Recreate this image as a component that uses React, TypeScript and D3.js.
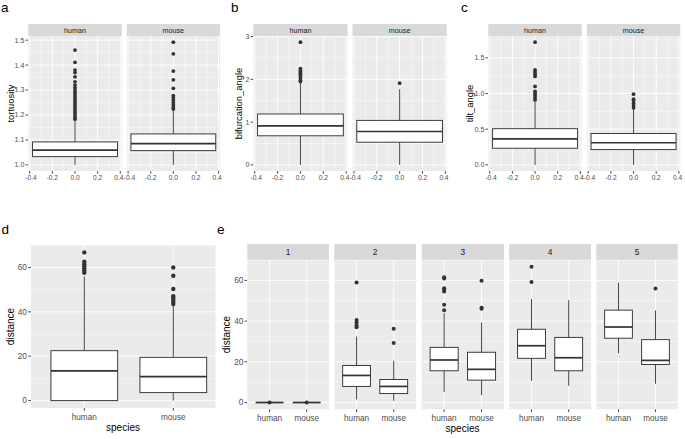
import React from "react";
import * as d3 from "d3";

type Box = { q1: number; med: number; q3: number; lo: number; hi: number; out: number[] };

const species = ["human", "mouse"];
const branchOrders = ["1", "2", "3", "4", "5"];

// continuous x axis of the top row (one box at x = 0)
const boxXTicks = [-0.4, -0.2, 0, 0.2, 0.4];
const boxXTickLabels = ["-0.4", "-0.2", "0.0", "0.2", "0.4"];
const boxXMinor = [-0.3, -0.1, 0.1, 0.3];

// a: tortuosity
const tortuosityTicks = [1.0, 1.1, 1.2, 1.3, 1.4, 1.5];
const tortuosityTickLabels = ["1.0", "1.1", "1.2", "1.3", "1.4", "1.5"];
const tortuosityMinor = [1.05, 1.15, 1.25, 1.35, 1.45];
const tortuosity: Box[] = [
  {
    q1: 1.033, med: 1.059, q3: 1.092, lo: 1.0, hi: 1.178,
    out: [1.183, 1.19, 1.2, 1.21, 1.22, 1.23, 1.24, 1.25, 1.26, 1.27, 1.28, 1.29, 1.3, 1.31, 1.32, 1.333, 1.353, 1.37, 1.38, 1.411, 1.46],
  },
  {
    q1: 1.057, med: 1.085, q3: 1.124, lo: 1.0, hi: 1.218,
    out: [1.224, 1.23, 1.24, 1.25, 1.26, 1.27, 1.277, 1.307, 1.341, 1.376, 1.445, 1.492],
  },
];

// b: bifurcation angle
const bifurcationTicks = [0, 1, 2, 3];
const bifurcationTickLabels = ["0", "1", "2", "3"];
const bifurcationMinor = [0.5, 1.5, 2.5];
const bifurcation: Box[] = [
  { q1: 0.68, med: 0.91, q3: 1.19, lo: 0, hi: 1.93, out: [1.95, 1.98, 2.03, 2.08, 2.12, 2.15, 2.18, 2.22, 2.25, 2.87] },
  { q1: 0.53, med: 0.78, q3: 1.04, lo: 0, hi: 1.77, out: [1.91] },
];

// c: tilt angle
const tiltTicks = [0, 0.5, 1.0, 1.5];
const tiltTickLabels = ["0.0", "0.5", "1.0", "1.5"];
const tiltMinor = [0.25, 0.75, 1.25, 1.75];
const tilt: Box[] = [
  { q1: 0.233, med: 0.363, q3: 0.507, lo: 0, hi: 0.89, out: [0.91, 0.94, 0.97, 1.0, 1.03, 1.1, 1.24, 1.27, 1.3, 1.33, 1.72] },
  { q1: 0.214, med: 0.31, q3: 0.44, lo: 0, hi: 0.78, out: [0.8, 0.83, 0.86, 0.9, 0.92, 0.99] },
];

// d / e: distance
const distanceTicks = [0, 20, 40, 60];
const distanceTickLabels = ["0", "20", "40", "60"];
const distanceMinor = [10, 30, 50, 70];
const distance: Box[] = [
  { q1: 0, med: 13.4, q3: 22.5, lo: 0, hi: 56, out: [57.6, 58.5, 59.5, 60.5, 61.5, 62.6, 66.8] },
  { q1: 3.6, med: 10.8, q3: 19.5, lo: 0, hi: 43, out: [43.5, 44.5, 45.5, 46.5, 47.1, 50.3, 56.3, 60] },
];
const distanceByOrder: Box[][] = [
  [
    { q1: 0, med: 0, q3: 0, lo: 0, hi: 0, out: [0] },
    { q1: 0, med: 0, q3: 0, lo: 0, hi: 0, out: [0] },
  ],
  [
    { q1: 7.9, med: 13.3, q3: 18.2, lo: 1.5, hi: 32.4, out: [37, 38, 39.5, 40.5, 59] },
    { q1: 4.4, med: 7.9, q3: 11.3, lo: 0.8, hi: 20.5, out: [29.2, 36.2] },
  ],
  [
    { q1: 15.6, med: 20.9, q3: 27.1, lo: 5.2, hi: 43.9, out: [45.4, 48, 54.5, 55.5, 56.2, 61, 61.6] },
    { q1: 11, med: 16.3, q3: 24.7, lo: 3.6, hi: 39.3, out: [46.1, 46.6, 59.8] },
  ],
  [
    { q1: 21.7, med: 27.9, q3: 36, lo: 10.7, hi: 50.8, out: [59.2, 66.7] },
    { q1: 15.6, med: 22, q3: 32, lo: 8.2, hi: 50.3, out: [] },
  ],
  [
    { q1: 31.6, med: 37.1, q3: 45.4, lo: 24.2, hi: 58.8, out: [] },
    { q1: 18.7, med: 20.7, q3: 30.9, lo: 9.2, hi: 45.2, out: [56] },
  ],
];

const FONT = "'Liberation Sans', Arial, sans-serif";
const PANEL = "#EBEBEB";
const STRIP = "#D9D9D9";
const DARK = "#333333";
const TICKTXT = "#4D4D4D";

// ggplot-like continuous limits: data range + 5%
const expandedDomain = (groups: Box[]) => {
  const vals = groups.flatMap((b) => [b.lo, b.hi, b.q1, b.q3, ...b.out]);
  const [mn, mx] = d3.extent(vals) as [number, number];
  const pad = (mx - mn) * 0.05;
  return [mn - pad, mx + pad];
};

type FacetProps = {
  x0: number; x1: number; top: number; bottom: number;
  xDomain: number[]; xMajor: number[]; xMinor: number[]; xLabels: string[];
  yDomain: number[]; yMajor: number[]; yMinor: number[];
  centers: number[]; boxes: Box[];
  r: number; tickFont: number; labelY: number; edgeNudge?: number;
  strip?: string; stripTop?: number; stripFont?: number;
};

function Facet(p: FacetProps) {
  const x = d3.scaleLinear().domain(p.xDomain).range([p.x0, p.x1]);
  const y = d3.scaleLinear().domain(p.yDomain).range([p.bottom, p.top]);
  const half = (x(0.75) - x(0)) / 2;
  const nudge = p.edgeNudge ?? 0;
  return (
    <g>
      {p.strip !== undefined && (
        <g>
          <rect x={p.x0} y={p.stripTop} width={p.x1 - p.x0} height={p.top - (p.stripTop as number)} fill={STRIP} />
          <text x={(p.x0 + p.x1) / 2} y={((p.stripTop as number) + p.top) / 2} dy="0.35em" textAnchor="middle"
            fontSize={p.stripFont} fill="#1A1A1A">{p.strip}</text>
        </g>
      )}
      <rect x={p.x0} y={p.top} width={p.x1 - p.x0} height={p.bottom - p.top} fill={PANEL} />
      {p.yMinor.filter((v) => v > p.yDomain[0] && v < p.yDomain[1]).map((v) => (
        <line key={"ym" + v} x1={p.x0} x2={p.x1} y1={y(v)} y2={y(v)} stroke="#fff" strokeWidth={0.45} />
      ))}
      {p.xMinor.map((v) => (
        <line key={"xm" + v} x1={x(v)} x2={x(v)} y1={p.top} y2={p.bottom} stroke="#fff" strokeWidth={0.45} />
      ))}
      {p.yMajor.map((v) => (
        <line key={"yM" + v} x1={p.x0} x2={p.x1} y1={y(v)} y2={y(v)} stroke="#fff" strokeWidth={0.9} />
      ))}
      {p.xMajor.map((v) => (
        <line key={"xM" + v} x1={x(v)} x2={x(v)} y1={p.top} y2={p.bottom} stroke="#fff" strokeWidth={0.9} />
      ))}
      {p.boxes.map((b, i) => {
        const cx = x(p.centers[i]);
        return (
          <g key={"b" + i}>
            <line x1={cx} x2={cx} y1={y(b.hi)} y2={y(b.q3)} stroke={DARK} strokeWidth={0.9} />
            <line x1={cx} x2={cx} y1={y(b.q1)} y2={y(b.lo)} stroke={DARK} strokeWidth={0.9} />
            <rect x={cx - half} y={y(b.q3)} width={half * 2} height={y(b.q1) - y(b.q3)}
              fill="#fff" stroke={DARK} strokeWidth={0.95} />
            <line x1={cx - half} x2={cx + half} y1={y(b.med)} y2={y(b.med)} stroke={DARK} strokeWidth={1.7} />
            {b.out.map((v, j) => (
              <circle key={j} cx={cx} cy={y(v)} r={p.r} fill={DARK} />
            ))}
          </g>
        );
      })}
      {p.xMajor.map((v, i) => {
        const shift = i === 0 ? nudge : i === p.xMajor.length - 1 ? -nudge : 0;
        return (
          <g key={"xt" + v}>
            <line x1={x(v)} x2={x(v)} y1={p.bottom} y2={p.bottom + 2.7} stroke={DARK} strokeWidth={0.9} />
            <text x={x(v) + shift} y={p.labelY} textAnchor="middle" fontSize={p.tickFont} fill={TICKTXT}>{p.xLabels[i]}</text>
          </g>
        );
      })}
    </g>
  );
}

function YAxis({ x0, top, bottom, domain, ticks, labels, font }: {
  x0: number; top: number; bottom: number; domain: number[]; ticks: number[]; labels: string[]; font: number;
}) {
  const y = d3.scaleLinear().domain(domain).range([bottom, top]);
  return (
    <g>
      {ticks.map((v, i) => (
        <g key={v}>
          <line x1={x0 - 2.7} x2={x0} y1={y(v)} y2={y(v)} stroke={DARK} strokeWidth={0.9} />
          <text x={x0 - 4} y={y(v)} dy="0.35em" textAnchor="end" fontSize={font} fill={TICKTXT}>{labels[i]}</text>
        </g>
      ))}
    </g>
  );
}

function TopPlot({ facetX, boxes, ticks, labels, minor, title, titleX }: {
  facetX: number[][]; boxes: Box[]; ticks: number[]; labels: string[]; minor: number[]; title: string; titleX: number;
}) {
  const top = 36, bottom = 171, stripTop = 24;
  const domain = expandedDomain(boxes);
  return (
    <g>
      <YAxis x0={facetX[0][0]} top={top} bottom={bottom} domain={domain} ticks={ticks} labels={labels} font={7} />
      {species.map((s, i) => (
        <Facet key={s} x0={facetX[i][0]} x1={facetX[i][1]} top={top} bottom={bottom}
          xDomain={[-0.4125, 0.4125]} xMajor={boxXTicks} xMinor={boxXMinor} xLabels={boxXTickLabels}
          yDomain={domain} yMajor={ticks} yMinor={minor} centers={[0]} boxes={[boxes[i]]}
          r={1.9} tickFont={6.6} labelY={179.5} edgeNudge={1.4} strip={s} stripTop={stripTop} stripFont={7.2} />
      ))}
      <text transform={`translate(${titleX},${(top + bottom) / 2}) rotate(-90)`} dy="0.35em"
        textAnchor="middle" fontSize={9.4} fill="#000">{title}</text>
    </g>
  );
}

export default function App() {
  const bottomDomain = expandedDomain(distanceByOrder.flat());
  const dDomain = expandedDomain(distance);
  const eFacets = [[247.3, 329], [334.3, 416], [421.7, 504], [509.2, 591], [596.3, 677.7]];
  return (
    <svg width={685} height={439} style={{ position: "absolute", left: 0, top: 0, fontFamily: FONT }}>
      <rect width={685} height={439} fill="#fff" />

      <TopPlot facetX={[[28.3, 121.7], [126.7, 220]]} boxes={tortuosity} ticks={tortuosityTicks}
        labels={tortuosityTickLabels} minor={tortuosityMinor} title="tortuosity" titleX={10.5} />
      <TopPlot facetX={[[253.3, 347.6], [352.5, 446.8]]} boxes={bifurcation} ticks={bifurcationTicks}
        labels={bifurcationTickLabels} minor={bifurcationMinor} title="bifurcation_angle" titleX={238.5} />
      <TopPlot facetX={[[488.3, 581.8], [586.8, 680.3]]} boxes={tilt} ticks={tiltTicks}
        labels={tiltTickLabels} minor={tiltMinor} title="tilt_angle" titleX={469.5} />

      {/* d */}
      <clipPath id="clipD"><rect x={0} y={240} width={215.5} height={199} /></clipPath>
      <g clipPath="url(#clipD)">
        <Facet x0={30.9} x1={226.7} top={245} bottom={408} xDomain={[0.4, 2.6]} xMajor={[1, 2]} xMinor={[]}
          xLabels={species} yDomain={dDomain} yMajor={distanceTicks} yMinor={distanceMinor}
          centers={[1, 2]} boxes={distance} r={2.2} tickFont={8.2} labelY={419.5} />
      </g>
      <YAxis x0={30.9} top={245} bottom={408} domain={dDomain} ticks={distanceTicks} labels={distanceTickLabels} font={8.2} />
      <text transform={`translate(10.5,326.5) rotate(-90)`} dy="0.35em" textAnchor="middle" fontSize={10}>distance</text>
      <text x={123} y={431} textAnchor="middle" fontSize={10}>species</text>

      {/* e */}
      <YAxis x0={eFacets[0][0]} top={260} bottom={409.3} domain={bottomDomain} ticks={distanceTicks}
        labels={distanceTickLabels} font={8.2} />
      {branchOrders.map((o, i) => (
        <Facet key={o} x0={eFacets[i][0]} x1={eFacets[i][1]} top={260} bottom={409.3} xDomain={[0.4, 2.6]}
          xMajor={[1, 2]} xMinor={[]} xLabels={species} yDomain={bottomDomain} yMajor={distanceTicks}
          yMinor={distanceMinor} centers={[1, 2]} boxes={distanceByOrder[i]} r={2} tickFont={8.2} labelY={420.5}
          strip={o} stripTop={244} stripFont={8.4} />
      ))}
      <text transform={`translate(226.5,334.5) rotate(-90)`} dy="0.35em" textAnchor="middle" fontSize={10}>distance</text>
      <text x={462.5} y={431.5} textAnchor="middle" fontSize={10}>species</text>

      {/* panel letters */}
      <text x={1} y={11.5} fontSize={13.5}>a</text>
      <text x={231} y={11.5} fontSize={13.5}>b</text>
      <text x={461} y={11.5} fontSize={13.5}>c</text>
      <text x={1.5} y={233.5} fontSize={13.5}>d</text>
      <text x={217} y={233.5} fontSize={13.5}>e</text>
    </svg>
  );
}
